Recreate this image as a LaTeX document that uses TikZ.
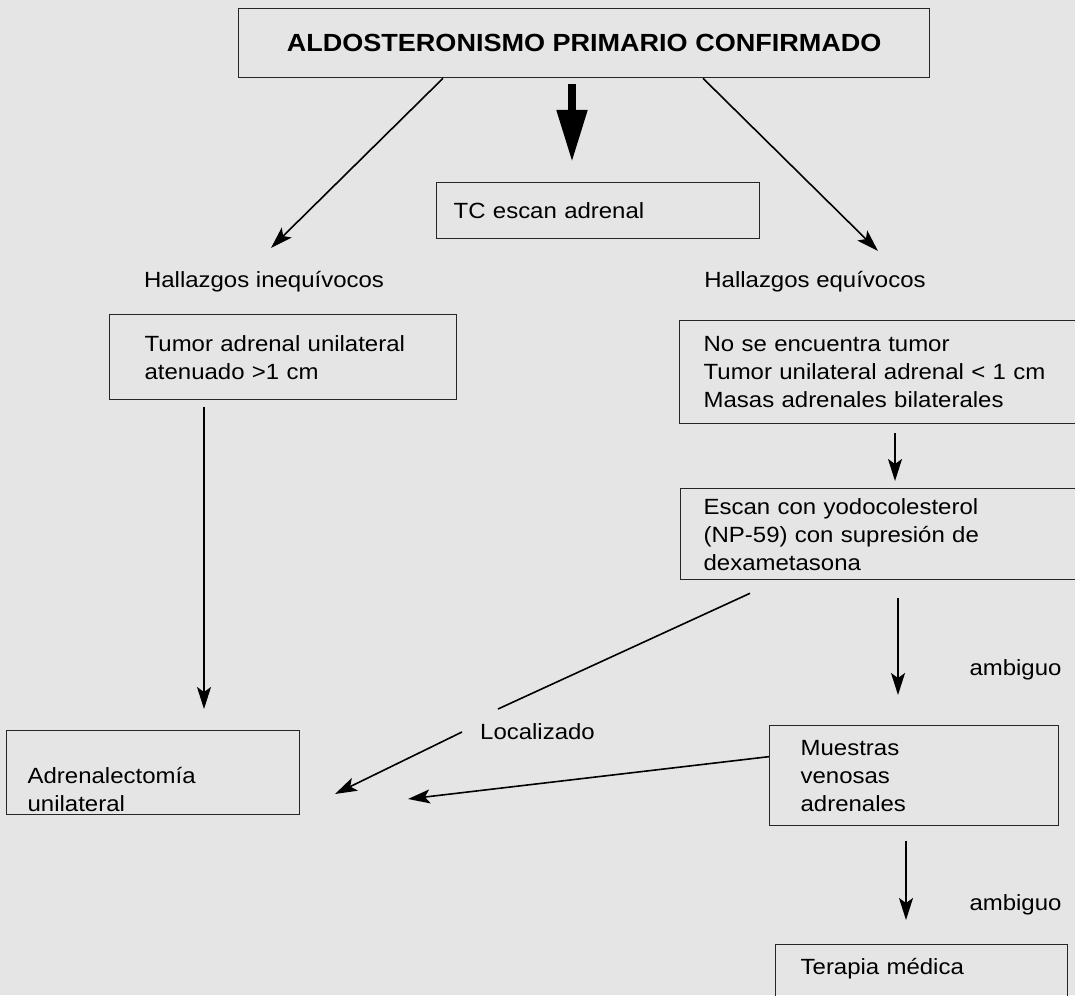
\documentclass[tikz,border=0pt]{standalone}
\usepackage{fontspec}
\setmainfont{Liberation Sans}[FakeStretch=1.09]
\usetikzlibrary{arrows.meta}

\begin{document}
\begin{tikzpicture}[x=0.5pt, y=-0.5pt,
        caja/.style={draw=black!85, line width=0.65pt, anchor=north west, align=left, inner ysep=0pt, font=\fontsize{11}{14}\selectfont},
        etiqueta/.style={inner sep=0pt, font=\fontsize{11}{14}\selectfont},
        flecha/.style={-{Stealth[length=11pt, width=7pt, inset=2.5pt]}, line width=0.8pt},
        flechona/.style={-{Triangle[length=26pt, width=14.5pt]}, line width=4pt}]
            \useasboundingbox (0,0) rectangle (1075,995);
            \clip (0,0) rectangle (1075,995);
            \fill[black!10] (0,0) rectangle (1075,995);

            \node[caja, align=center, minimum width=345.5pt, minimum height=34.5pt, font=\fontsize{12.4}{14}\selectfont\bfseries] (apc) at (238,8) {ALDOSTERONISMO PRIMARIO CONFIRMADO};
            \node[caja, inner xsep=8.5pt, text width=144.5pt, minimum height=28pt] (tc) at (436,182) {TC escan adrenal};
            \node[caja, inner xsep=17.5pt, text width=138.5pt, minimum height=42.5pt] (tumor) at (109,314) {Tumor adrenal unilateral\\atenuado >1 cm};
            \node[caja, inner xsep=12pt, text width=196pt, minimum height=51.5pt] (nosee) at (679,320) {No se encuentra tumor\\Tumor unilateral adrenal < 1 cm\\Masas adrenales bilaterales};
            \node[caja, inner xsep=11.5pt, text width=197pt, minimum height=45.5pt] (escan) at (680,488) {Escan con yodocolesterol\\(NP-59) con supresión de\\dexametasona};
            \node[caja, inner xsep=10.5pt, text width=125.5pt, minimum height=42pt] (adr) at (6,730) {\rule{0pt}{25pt}Adrenalectomía\\unilateral};
            \node[caja, inner xsep=15.5pt, text width=113.5pt, minimum height=50pt] (muestras) at (769,725) {Muestras\\venosas\\adrenales};
            \node[caja, inner xsep=12.5pt, text width=121pt, text height=15pt, text depth=20pt] (terapia) at (775,944) {Terapia médica};

            \node[etiqueta] (hi) at (264,282) {Hallazgos inequívocos};
            \node[etiqueta] (he) at (815,282) {Hallazgos equívocos};
            \node[etiqueta] (loc) at (537.5,732) {Localizado};
            \node[etiqueta] (amb1) at (1015.5,670) {ambiguo};
            \node[etiqueta] (amb2) at (1015.5,905) {ambiguo};

            \coordinate (izq) at (443,0);
            \coordinate (der) at (703,0);
            \coordinate (centro) at (572,0);
            \coordinate (bajaIzq) at (204,0);
            \coordinate (bajaDer) at (895,0);
            \coordinate (bajaDer2) at (898,0);
            \coordinate (bajaDer3) at (906,0);
            \coordinate (locS) at (750,0);
            \coordinate (pIzq) at (271,248);
            \coordinate (pDer) at (878,251);
            \coordinate (locA) at (498,709);
            \coordinate (locB) at (462,732);
            \coordinate (pLoc) at (335,794);
            \coordinate (pMue) at (408,799);

            \draw[flecha] (apc.south -| izq) -- (pIzq);
            \draw[flechona, shorten >=10pt] (apc.south -| centro) ++(0,6) -- (tc.north -| centro);
            \draw[flecha] (apc.south -| der) -- (pDer);
            \draw[flecha, shorten >=10.5pt] (tumor.south -| bajaIzq) ++(0,7) -- (adr.north -| bajaIzq);
            \draw[flecha, shorten >=3.5pt] (nosee.south -| bajaDer) ++(0,9) -- (escan.north -| bajaDer);
            \draw[line width=0.8pt] (escan.south -| locS) ++(0,13) -- (locA);
            \draw[flecha] (locB) -- (pLoc);
            \draw[flecha, shorten >=15pt] (escan.south -| bajaDer2) ++(0,18) -- (muestras.north -| bajaDer2);
            \draw[flecha] (muestras.west) ++(0,-19) -- (pMue);
            \draw[flecha, shorten >=12pt] (muestras.south -| bajaDer3) ++(0,15) -- (terapia.north -| bajaDer3);
        \end{tikzpicture}
\end{document}
